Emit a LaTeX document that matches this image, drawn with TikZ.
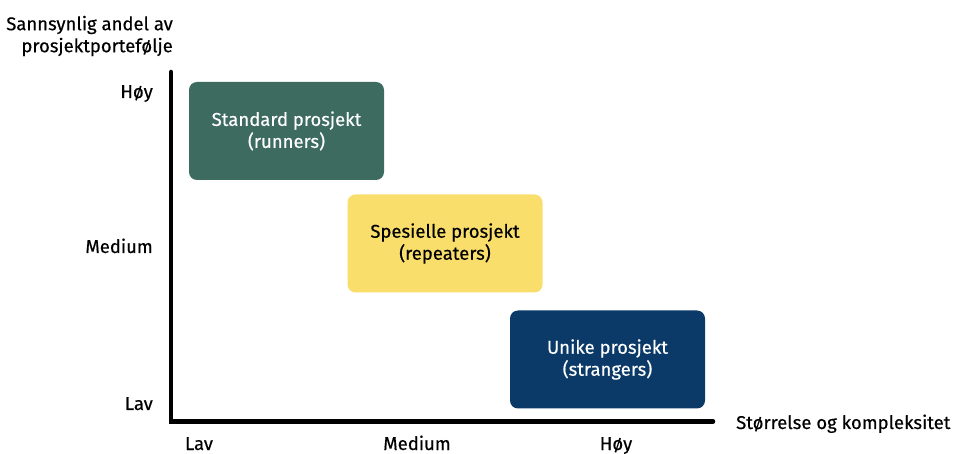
\documentclass[tikz,border=0pt]{standalone}
\usepackage{fontspec}
\setmainfont{Fira Sans}[FakeBold=0.4]
\definecolor{runnergreen}{HTML}{3D6B60}
\definecolor{repeateryellow}{HTML}{F9DE6C}
\definecolor{strangerblue}{HTML}{0B3A68}

\begin{document}
\begin{tikzpicture}[x=1pt,y=-1pt,
    box/.style={rounded corners=8pt, minimum width=195pt, minimum height=98pt,
      align=center, font=\fontsize{18.5}{22}\selectfont},
    lbl/.style={inner sep=0pt, font=\fontsize{18.5}{22}\selectfont}]
    \useasboundingbox (0,0) rectangle (954,454);

    % draw axes
    \coordinate (ytop) at (171,72);
    \coordinate (origin) at (171,421.5);
    \coordinate (xend) at (713,421.5);
    \draw[line width=4.5pt, line cap=round] (ytop) -- (origin) -- (xend);

    % draw boxes
    \node[box, fill=runnergreen, text=white] (runners) at (286.5,131) {Standard prosjekt\\(runners)};
    \node[box, fill=repeateryellow] (repeaters) at (445,243.5) {Spesielle prosjekt\\(repeaters)};
    \node[box, fill=strangerblue, text=white] (strangers) at (607.5,359.5) {Unike prosjekt\\(strangers)};

    % draw axis labels
    \node[lbl, anchor=east, align=right] (ytitle) at (173,36) {Sannsynlig andel av\\prosjektportefølje};
    \node[lbl, anchor=base east] (yhigh) at (153,98) {Høy};
    \node[lbl, anchor=base east] (ymid) at (153,253) {Medium};
    \node[lbl, anchor=base east] (ylow) at (153,410) {Lav};
    \node[lbl, anchor=base] (xlow) at (199,450) {Lav};
    \node[lbl, anchor=base] (xmid) at (417,450) {Medium};
    \node[lbl, anchor=base] (xhigh) at (616,450) {Høy};
    \node[lbl, anchor=base west] (xtitle) at (736,429) {Størrelse og kompleksitet};
\end{tikzpicture}
\end{document}
